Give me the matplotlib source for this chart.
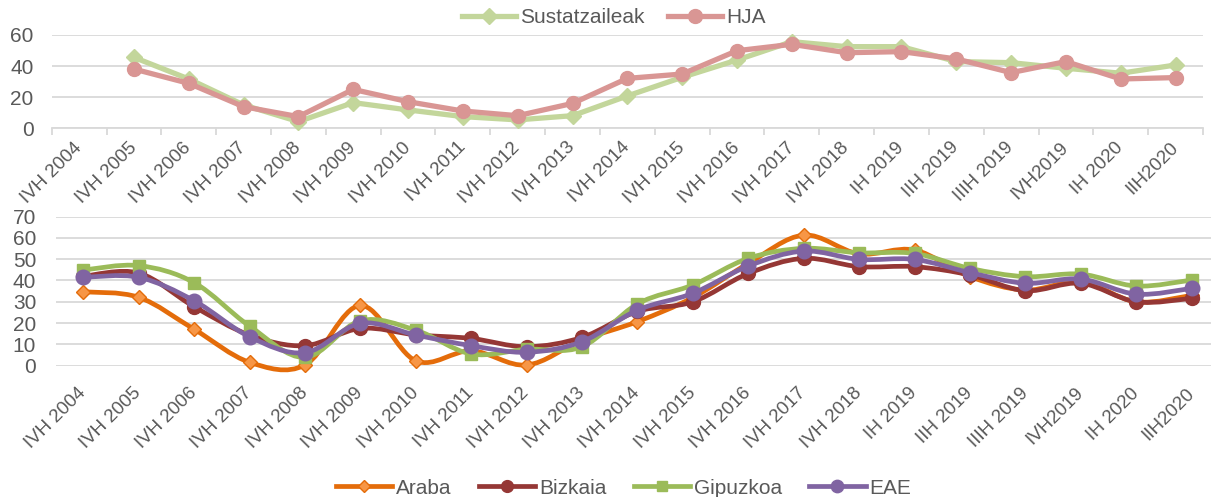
import matplotlib.pyplot as plt
import numpy as np
from matplotlib.path import Path
from matplotlib.patches import PathPatch
from matplotlib.lines import Line2D

plt.rcParams['font.family'] = ['Liberation Sans', 'DejaVu Sans']

labels = ['IVH 2004', 'IVH 2005', 'IVH 2006', 'IVH 2007', 'IVH 2008', 'IVH 2009',
          'IVH 2010', 'IVH 2011', 'IVH 2012', 'IVH 2013', 'IVH 2014', 'IVH 2015',
          'IVH 2016', 'IVH 2017', 'IVH 2018', 'IH 2019', 'IIH 2019', 'IIIH 2019',
          'IVH2019', 'IH 2020', 'IIH2020']

# goiko grafikoa
sustatzaileak = [np.nan, 45.6, 31.7, 15.0, 4.3, 16.5, 11.8, 7.5, 5.4, 8.1, 20.8,
                 32.8, 43.9, 55.7, 52.5, 52.5, 42.9, 42.2, 38.6, 35.4, 40.7]
hja = [np.nan, 38.1, 28.9, 13.9, 7.5, 25.0, 17.1, 11.1, 8.1, 16.0, 32.1,
       34.9, 49.9, 54.0, 48.6, 49.3, 44.6, 35.8, 42.9, 31.7, 32.6]

# beheko grafikoa
araba = [34.7, 32.1, 17.1, 1.6, 0.3, 28.3, 2.3, 7.0, 0.3, 12.0, 20.7,
         32.0, 48.0, 61.3, 52.5, 54.3, 41.8, 35.5, 39.4, 30.0, 33.0]
bizkaia = [42.0, 43.5, 27.7, 14.4, 9.4, 17.5, 14.5, 12.8, 8.9, 13.3, 25.5,
           30.0, 43.3, 50.4, 46.5, 46.5, 42.6, 35.2, 38.7, 30.0, 31.6]
gipuzkoa = [44.9, 47.0, 39.0, 18.6, 3.9, 21.1, 16.7, 5.5, 7.7, 8.9, 29.0,
            37.9, 50.4, 55.1, 53.0, 52.7, 45.7, 41.8, 43.0, 37.4, 40.2]
eae = [41.5, 41.5, 30.5, 13.6, 6.1, 19.9, 14.4, 9.4, 6.3, 11.3, 26.1,
       34.0, 46.8, 53.8, 49.9, 49.9, 43.7, 38.7, 40.7, 33.6, 36.3]

txt = '#595959'
grid = '#D9D9D9'
fs = 15
xfs = 13.5

fig = plt.figure(figsize=(12.11, 4.97), dpi=100)

# ---- goikoa ----
ax1 = fig.add_axes([0.0427, 0.7419, 0.9507, 0.1877])
x = np.arange(len(labels))
ax1.plot(x, sustatzaileak, color='#C3D69B', lw=3.8, marker='D', ms=8,
         label='Sustatzaileak', zorder=3, clip_on=False)
ax1.plot(x, hja, color='#D99694', lw=3.8, marker='o', ms=10,
         label='HJA', zorder=4, clip_on=False)
ax1.set_xlim(-0.5, len(labels) - 0.5)
ax1.set_ylim(0, 60)
ax1.set_yticks([0, 20, 40, 60])
ax1.yaxis.grid(True, color=grid, lw=1.3)
ax1.set_axisbelow(True)
for s in ['top', 'right', 'left']:
    ax1.spines[s].set_visible(False)
ax1.spines['bottom'].set_color(grid)
ax1.spines['bottom'].set_linewidth(1.3)
ax1.set_xticks(x)
ax1.set_xticklabels(labels, rotation=45, ha='right', va='center',
                    rotation_mode='anchor', fontsize=xfs, color=txt)
ax1.set_xticks(np.arange(len(labels) + 1) - 0.5, minor=True)
ax1.tick_params(axis='x', which='major', length=0, pad=12)
ax1.tick_params(axis='x', which='minor', length=5, color=grid, width=1.3)
ax1.tick_params(axis='y', length=0, pad=13, labelsize=fs, labelcolor=txt)
fig.legend(*ax1.get_legend_handles_labels(), loc='center', ncol=2,
           bbox_to_anchor=(0.507, 0.964), frameon=False, fontsize=fs,
           labelcolor=txt, handlelength=2.6, handletextpad=0.2,
           columnspacing=1.1)

# ---- behekoa ----
ax2 = fig.add_axes([0.0459, 0.2642, 0.9610, 0.3])


def smooth_path(xs, ys):
    # Excel-en "smoothed line" antzekoa: Bezier kurbak puntuen artean
    pts = np.column_stack([xs, ys])
    n = len(pts)
    verts = [pts[0]]
    codes = [Path.MOVETO]
    for i in range(n - 1):
        p0 = pts[max(i - 1, 0)]
        p1 = pts[i]
        p2 = pts[i + 1]
        p3 = pts[min(i + 2, n - 1)]
        verts += [p1 + (p2 - p0) / 6, p2 - (p3 - p1) / 6, p2]
        codes += [Path.CURVE4] * 3
    return Path(verts, codes)


series = [
    ('Araba', araba, '#E46C0A', '#F79646', 'D', 7.5),
    ('Bizkaia', bizkaia, '#953735', '#953735', 'o', 10),
    ('Gipuzkoa', gipuzkoa, '#9BBB59', '#9BBB59', 's', 9),
    ('EAE', eae, '#8064A2', '#8064A2', 'o', 10.5),
]
handles = []
for k, (name, vals, col, face, mk, ms) in enumerate(series):
    patch = PathPatch(smooth_path(x, vals), fill=False, edgecolor=col, lw=3.4,
                      capstyle='round', joinstyle='round', zorder=3 + k,
                      clip_on=False)
    ax2.add_patch(patch)
    ax2.plot(x, vals, ls='none', marker=mk, ms=ms, mfc=face, mec=col, mew=1,
             zorder=3 + k, clip_on=False)
    handles.append(Line2D([], [], color=col, lw=3.4, marker=mk, ms=ms * 0.85,
                          mfc=face, mec=col, label=name))

ax2.set_xlim(-0.5, len(labels) - 0.5)
ax2.set_ylim(0, 70)
ax2.set_yticks(range(0, 71, 10))
ax2.yaxis.grid(True, color=grid, lw=1.3)
ax2.set_axisbelow(True)
for s in ax2.spines.values():
    s.set_visible(False)
ax2.set_xticks(x)
ax2.set_xticklabels(labels, rotation=45, ha='right', va='center',
                    rotation_mode='anchor', fontsize=xfs, color=txt)
ax2.tick_params(axis='x', length=0, pad=18)
ax2.tick_params(axis='y', length=0, pad=14, labelsize=fs, labelcolor=txt)
fig.legend(handles=handles, loc='center', ncol=4,
           bbox_to_anchor=(0.515, 0.018), frameon=False, fontsize=fs,
           labelcolor=txt, handlelength=2.7, handletextpad=0.2,
           columnspacing=1.3)

fig.savefig('out.png', dpi=100)
